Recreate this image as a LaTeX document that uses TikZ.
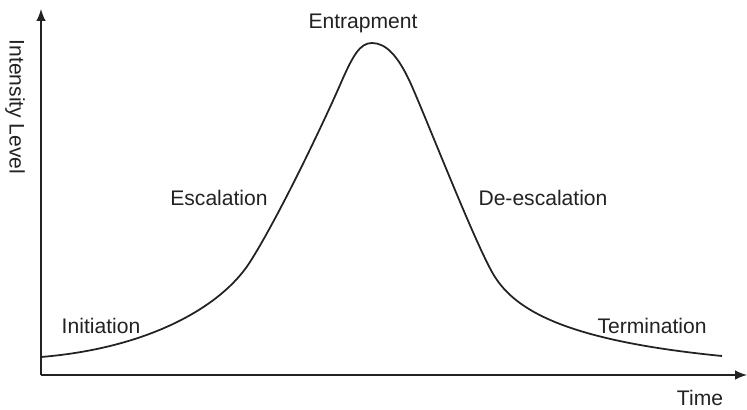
\documentclass[tikz,border=0pt]{standalone}
\usepackage{fontspec}
\setmainfont{Liberation Sans}
\usetikzlibrary{arrows.meta,positioning}
\definecolor{inkgray}{HTML}{222222}

\begin{document}
\begin{tikzpicture}[
    x=0.02cm,y=-0.02cm,
    font=\fontsize{12}{14}\selectfont,
    every node/.style={text=inkgray},
    axis/.style={draw=inkgray,line width=0.8pt,-{Latex[length=2.4mm,width=1.9mm]}},
    phase/.style={inner sep=1pt},
  ]
    \useasboundingbox (0,0) rectangle (747,409);
    \coordinate (origin) at (41,375);
    \coordinate (ytip) at (41,9);
    \coordinate (xtip) at (747,375);
    \draw[axis] (origin) -- (ytip);
    \draw[axis] (origin) -- (xtip);
    \node[rotate=-90] (ylabel) at (15,107) {Intensity Level};
    \node[phase] (xlabel) at (700,398) {Time};

    % intensity curve
    \draw[inkgray,line width=1pt] (41,357)
      .. controls (150,348) and (222,306) .. (250,262)
      .. controls (278,218) and (322,126) .. (340,85)
      .. controls (353,55) and (360,43) .. (372,43)
      .. controls (386,43) and (398,56) .. (410,82)
      .. controls (425,115) and (472,236) .. (492,272)
      .. controls (512,308) and (560,340) .. (722,356);

    \node[phase] (entrap) at (363,23) {Entrapment};
    \node[phase] (escal) at (219,198) {Escalation};
    \node[phase] (deescal) at (543,198) {De-escalation};
    \node[phase] (init) at (101,326) {Initiation};
    \node[phase] (term) at (652,326) {Termination};
  \end{tikzpicture}
\end{document}
